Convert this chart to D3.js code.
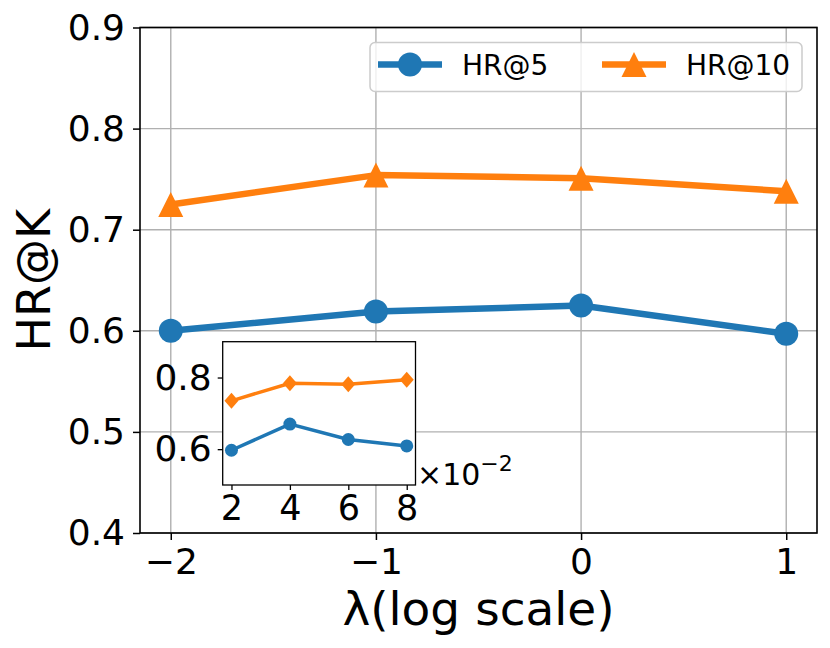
<!DOCTYPE html>
<html>
<head>
<meta charset="utf-8">
<script src="https://cdn.jsdelivr.net/npm/d3@7"></script>
<style>
  body { margin: 0; background: white; }
  text { font-family: "DejaVu Sans", sans-serif; fill: black; }
</style>
</head>
<body>
<div id="chart"></div>
<script>
// values
const lambdaLog = [-2, -1, 0, 1];
const hr5 = [0.600, 0.619, 0.625, 0.597];
const hr10 = [0.725, 0.754, 0.751, 0.738];
const yTicks = [0.4, 0.5, 0.6, 0.7, 0.8, 0.9];

const insetX = [2, 4, 6, 8];          // x 10^-2
const insetHR5 = [0.597, 0.670, 0.627, 0.609];
const insetHR10 = [0.735, 0.784, 0.781, 0.794];
const insetYTicks = [0.6, 0.8];

const seriesNames = ["HR@5", "HR@10"];
const blue = "#1f77b4", orange = "#ff7f0e";

const svg = d3.select("#chart").append("svg")
  .attr("width", 830)
  .attr("height", 648);

// main axes
const x = d3.scaleLinear().domain([-2.15, 1.15]).range([140, 817]);
const y = d3.scaleLinear().domain([0.4, 0.9]).range([533, 27.5]);

function drawText(g, tx, ty, size, str, anchor="middle"){
  return g.append("text")
    .attr("x", tx)
    .attr("y", ty)
    .attr("font-size", `${size}px`)
    .attr("text-anchor", anchor)
    .text(str);
}

// grid
svg.append("g").selectAll("line.gx").data(lambdaLog).join("line")
  .attr("x1", d => x(d)).attr("x2", d => x(d))
  .attr("y1", y(0.4)).attr("y2", y(0.9))
  .attr("stroke", "#b0b0b0").attr("stroke-width", 1.4);
svg.append("g").selectAll("line.gy").data(yTicks).join("line")
  .attr("x1", x(-2.15)).attr("x2", x(1.15))
  .attr("y1", d => y(d)).attr("y2", d => y(d))
  .attr("stroke", "#b0b0b0").attr("stroke-width", 1.4);

// axes with ticks
const xAxis = d3.axisBottom(x).tickValues(lambdaLog).tickSize(7).tickPadding(8)
  .tickFormat(d => d < 0 ? "\u2212" + Math.abs(d) : d);
const gx = svg.append("g").attr("transform", `translate(0,${y(0.4)})`).call(xAxis);
gx.select(".domain").remove();
gx.selectAll("line").attr("stroke-width", 1.5);
gx.selectAll("text").attr("font-size", "36px").attr("font-family", "DejaVu Sans");

const yAxis = d3.axisLeft(y).tickValues(yTicks).tickSize(7).tickPadding(8)
  .tickFormat(d3.format(".1f"));
const gy = svg.append("g").attr("transform", `translate(${x(-2.15)},0)`).call(yAxis);
gy.select(".domain").remove();
gy.selectAll("line").attr("stroke-width", 1.5);
gy.selectAll("text").attr("font-size", "36px").attr("font-family", "DejaVu Sans");

// series lines
const line = d3.line().x((d, i) => x(lambdaLog[i])).y(d => y(d));
svg.append("path").datum(hr5).attr("d", line)
  .attr("fill", "none").attr("stroke", blue).attr("stroke-width", 6.5).attr("stroke-linejoin", "round");
svg.append("path").datum(hr10).attr("d", line)
  .attr("fill", "none").attr("stroke", orange).attr("stroke-width", 6.5).attr("stroke-linejoin", "round");

function triPath(s){
  // matplotlib style triangle: width 2s, height 2s, centered
  return `M0,${-s}L${s},${s}L${-s},${s}Z`;
}
svg.append("g").selectAll("circle").data(hr5).join("circle")
  .attr("cx", (d, i) => x(lambdaLog[i])).attr("cy", d => y(d))
  .attr("r", 12).attr("fill", blue);
svg.append("g").selectAll("path").data(hr10).join("path")
  .attr("d", triPath(12.5))
  .attr("transform", (d, i) => `translate(${x(lambdaLog[i])},${y(d)})`)
  .attr("fill", orange);

// frame
svg.append("rect")
  .attr("x", x(-2.15)).attr("y", y(0.9))
  .attr("width", x(1.15) - x(-2.15)).attr("height", y(0.4) - y(0.9))
  .attr("fill", "none").attr("stroke", "black").attr("stroke-width", 1.6);

// axis labels
drawText(svg, (x(-2.15) + x(1.15)) / 2, 625, 47, "\u03bb(log scale)");
drawText(svg, 0, 0, 46, "HR@K")
  .attr("transform", `translate(50,${(y(0.4) + y(0.9)) / 2}) rotate(-90)`);

// legend
const legend = svg.append("g");
legend.append("rect")
  .attr("x", 370).attr("y", 42.5).attr("width", 432).attr("height", 49)
  .attr("rx", 5).attr("fill", "white").attr("fill-opacity", 0.8)
  .attr("stroke", "#cccccc").attr("stroke-width", 1.5);
const legendX = [378, 602];
const legendY = 64.5;
seriesNames.forEach((name, i) => {
  const color = i === 0 ? blue : orange;
  legend.append("line")
    .attr("x1", legendX[i]).attr("x2", legendX[i] + 64)
    .attr("y1", legendY).attr("y2", legendY)
    .attr("stroke", color).attr("stroke-width", 6.5);
  if (i === 0) {
    legend.append("circle").attr("cx", legendX[i] + 32).attr("cy", legendY).attr("r", 12).attr("fill", color);
  } else {
    legend.append("path").attr("d", triPath(12.5))
      .attr("transform", `translate(${legendX[i] + 32},${legendY})`).attr("fill", color);
  }
  drawText(legend, legendX[i] + 84, legendY + 10, 28, name, "start");
});

// inset axes
const ix = d3.scaleLinear().domain([1.7, 8.3]).range([222.7, 415.5]);
const iy = d3.scaleLinear().domain([0.5, 0.9]).range([485, 341.7]);
const inset = svg.append("g");
inset.append("rect")
  .attr("x", ix(1.7)).attr("y", iy(0.9))
  .attr("width", ix(8.3) - ix(1.7)).attr("height", iy(0.5) - iy(0.9))
  .attr("fill", "white");

const iline = d3.line().x((d, i) => ix(insetX[i])).y(d => iy(d));
inset.append("path").datum(insetHR5).attr("d", iline)
  .attr("fill", "none").attr("stroke", blue).attr("stroke-width", 3.5);
inset.append("path").datum(insetHR10).attr("d", iline)
  .attr("fill", "none").attr("stroke", orange).attr("stroke-width", 3.5);
inset.append("g").selectAll("circle").data(insetHR5).join("circle")
  .attr("cx", (d, i) => ix(insetX[i])).attr("cy", d => iy(d))
  .attr("r", 6.5).attr("fill", blue);
inset.append("g").selectAll("path").data(insetHR10).join("path")
  .attr("d", "M0,-8L7,0L0,8L-7,0Z")
  .attr("transform", (d, i) => `translate(${ix(insetX[i])},${iy(d)})`)
  .attr("fill", orange);

const ixAxis = d3.axisBottom(ix).tickValues(insetX).tickSize(5).tickPadding(5)
  .tickFormat(d3.format("d"));
const gix = inset.append("g").attr("transform", `translate(0,${iy(0.5)})`).call(ixAxis);
gix.select(".domain").remove();
gix.selectAll("line").attr("stroke-width", 1.3);
gix.selectAll("text").attr("font-size", "35px").attr("font-family", "DejaVu Sans");

const iyAxis = d3.axisLeft(iy).tickValues(insetYTicks).tickSize(5).tickPadding(6)
  .tickFormat(d3.format(".1f"));
const giy = inset.append("g").attr("transform", `translate(${ix(1.7)},0)`).call(iyAxis);
giy.select(".domain").remove();
giy.selectAll("line").attr("stroke-width", 1.3);
giy.selectAll("text").attr("font-size", "36px").attr("font-family", "DejaVu Sans");

inset.append("rect")
  .attr("x", ix(1.7)).attr("y", iy(0.9))
  .attr("width", ix(8.3) - ix(1.7)).attr("height", iy(0.5) - iy(0.9))
  .attr("fill", "none").attr("stroke", "black").attr("stroke-width", 1.3);

// offset text x10^-2
const off = drawText(inset, 417, 485, 30, "\u00d710", "start");
off.append("tspan").attr("dy", -14).attr("font-size", "22px").text("\u22122");
</script>
</body>
</html>
